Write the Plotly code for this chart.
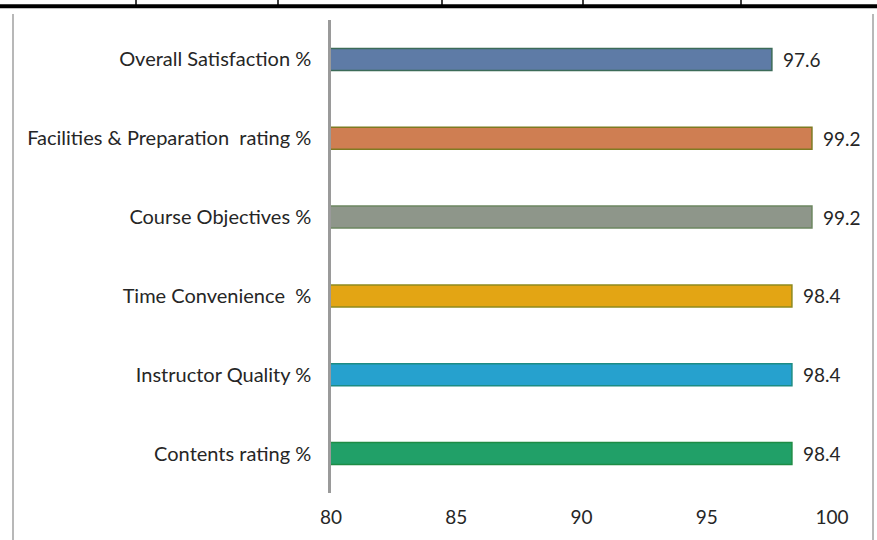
import plotly.graph_objects as go

categories = [
    "Overall Satisfaction %",
    "Facilities & Preparation \u00a0rating %",
    "Course Objectives %",
    "Time Convenience \u00a0%",
    "Instructor Quality %",
    "Contents rating %",
]
values = [97.6, 99.2, 99.2, 98.4, 98.4, 98.4]
bar_colors = ["#5E7BA6", "#CF7E52", "#8E968A", "#E3A514", "#26A1CE", "#21A068"]
edge_colors = ["#3C6B58", "#7E7A22", "#6C8760", "#8E8A1E", "#1C8C84", "#1E8C45"]
x_ticks = [80, 85, 90, 95, 100]

FONT = "Lato, 'Liberation Sans', sans-serif"
FS = 20
FS_NUM = 19

fig = go.Figure()
fig.add_trace(go.Bar(
    x=values,
    y=categories,
    orientation="h",
    width=0.28,
    marker=dict(color=bar_colors, line=dict(color=edge_colors, width=1.5)),
    hoverinfo="x+y",
))

for v, c in zip(values, categories):
    fig.add_annotation(x=v, y=c, text=f"{v}", showarrow=False,
                       xanchor="left", xshift=9,
                       font=dict(family=FONT, size=FS_NUM, color="#262626"))

# decorative frame: top thick border with small ticks, side grey lines
fig.add_shape(type="line", xref="paper", yref="paper", x0=-0.7, x1=1.2,
              y0=1.029, y1=1.029, line=dict(color="black", width=4), layer="above")
for xp in [136, 278, 442, 583, 741]:
    fx = (xp - 331) / 501
    fig.add_shape(type="line", xref="paper", yref="paper", x0=fx, x1=fx,
                  y0=1.03, y1=1.045, line=dict(color="black", width=1.5))
for xp in [13, 873]:
    fx = (xp - 331) / 501
    fig.add_shape(type="line", xref="paper", yref="paper", x0=fx, x1=fx,
                  y0=1.0125, y1=-0.12, line=dict(color="#B8B8B8", width=2))

fig.update_layout(
    width=877, height=540,
    margin=dict(l=331, r=45, t=20, b=41),
    paper_bgcolor="white", plot_bgcolor="white",
    showlegend=False,
    bargap=0.72,
    font=dict(family=FONT, size=FS, color="#262626"),
)
fig.update_xaxes(range=[80, 100], tickvals=x_ticks, showgrid=False, zeroline=False,
                 showline=False, ticks="", ticklabelstandoff=11,
                 tickfont=dict(family=FONT, size=FS_NUM, color="#262626"))
fig.update_yaxes(categoryorder="array", categoryarray=categories, autorange="reversed",
                 showgrid=False, zeroline=False, showline=True, linecolor="#9A9A9A",
                 linewidth=2.5, ticks="", ticklabelstandoff=13,
                 tickfont=dict(family=FONT, size=FS, color="#262626"))

fig.write_html("out.html", config={"displayModeBar": False},
               post_script="document.body.style.margin='0';document.body.style.padding='0';")
